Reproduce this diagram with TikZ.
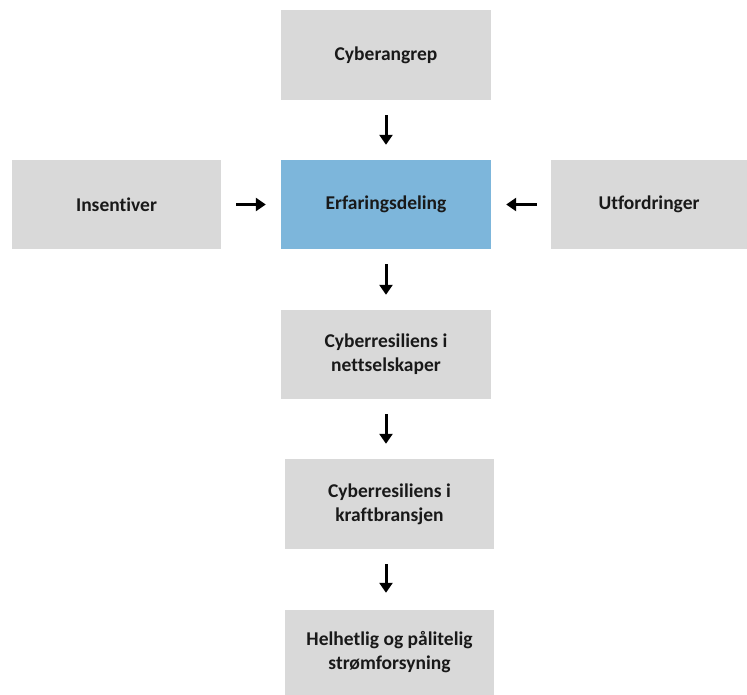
\documentclass[tikz,border=0pt]{standalone}
\usepackage{fontspec}
\setmainfont{Carlito}[RawFeature=-liga]
\usetikzlibrary{arrows.meta}
\definecolor{boxgray}{HTML}{D9D9D9}
\definecolor{boxblue}{HTML}{7DB6DB}
\begin{document}
\begin{tikzpicture}[x=1pt,y=-1pt,
  box/.style={fill=boxgray, draw=none, inner sep=0pt, align=center,
    font=\fontsize{19.5}{24}\selectfont\bfseries, text=black!90},
  flow/.style={line width=3pt, -{Triangle[width=13pt,length=10pt]}, shorten <=15pt, shorten >=15pt}]
\useasboundingbox (0,0) rectangle (747,695);
\node[box, minimum width=210pt, minimum height=90pt] (cyber) at (386,55) {Cyberangrep};
\node[box, minimum width=209pt, minimum height=89pt] (ins) at (116.5,204.5) {Insentiver};
\node[box, fill=boxblue, minimum width=210pt, minimum height=89pt] (erf) at (386,204.5) {Erfaringsdeling};
\node[box, minimum width=196pt, minimum height=89pt] (utf) at (649,204.5) {Utfordringer};
\node[box, minimum width=210pt, minimum height=89pt] (nett) at (386,354.5) {Cyberresiliens i\\nettselskaper};
\node[box, minimum width=209pt, minimum height=90pt] (kraft) at (389.5,504) {Cyberresiliens i\\kraftbransjen};
\node[box, minimum width=209pt, minimum height=85pt] (helh) at (389.5,652.5) {Helhetlig og pålitelig\\strømforsyning};
\draw[flow] (cyber.south) -- (erf.north);
\draw[flow] (ins.east) -- (erf.west);
\draw[flow, shorten <=14pt] (utf.west) -- (erf.east);
\draw[flow] (erf.south) -- (nett.north);
\draw[flow] (nett.south) -- (nett.south |- kraft.north);
\draw[flow, shorten >=17pt] (kraft.south -| nett.south) -- (nett.south |- helh.north);
\end{tikzpicture}
\end{document}
